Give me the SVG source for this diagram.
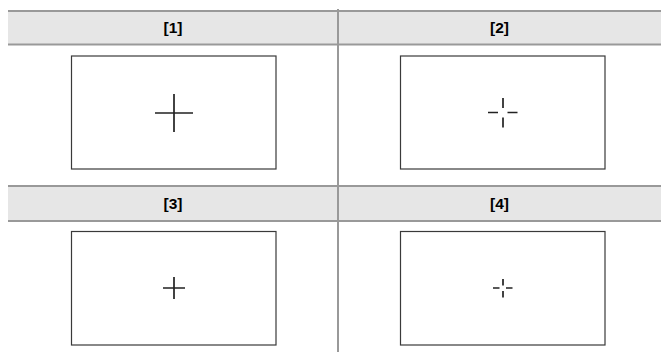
<svg xmlns="http://www.w3.org/2000/svg" width="661" height="352" viewBox="0 0 661 352">
<style>
.hdr{fill:#e6e6e6}
.rule{stroke:#999;stroke-width:2;fill:none}
.lbl{font-family:"Liberation Sans",Arial,sans-serif;font-weight:bold;font-size:15.5px;fill:#000;text-anchor:middle}
.box{fill:#fff;stroke:#3a3a3a;stroke-width:1.2}
.cross{stroke:#222;stroke-width:1.7;fill:none}
</style>
<rect width="661" height="352" fill="#fff"/>
<g id="headers">
<rect class="hdr" x="8" y="11" width="653" height="33.5"/>
<rect class="hdr" x="8" y="186" width="653" height="35"/>
<line class="rule" x1="8" y1="11" x2="661" y2="11"/>
<line class="rule" x1="8" y1="44.5" x2="661" y2="44.5"/>
<line class="rule" x1="8" y1="186" x2="661" y2="186"/>
<line class="rule" x1="8" y1="221" x2="661" y2="221"/>
<line class="rule" x1="338" y1="9" x2="338" y2="352"/>
<text class="lbl" x="173" y="33">[1]</text>
<text class="lbl" x="499.5" y="33">[2]</text>
<text class="lbl" x="173" y="209">[3]</text>
<text class="lbl" x="499.5" y="209">[4]</text>
</g>
<g id="panel1">
<rect class="box" x="71.5" y="56" width="204.5" height="113"/>
<path class="cross" d="M174 94V132M155 113H193"/>
</g>
<g id="panel2">
<rect class="box" x="400.5" y="56" width="204.5" height="113"/>
<path class="cross" d="M503 98V108M503 117.5V127.5M488 112.5H498M507.5 112.5H517.5"/>
</g>
<g id="panel3">
<rect class="box" x="71.5" y="231.5" width="204.5" height="113.5"/>
<path class="cross" d="M174 277V299M163 288H185"/>
</g>
<g id="panel4">
<rect class="box" x="400.5" y="231.5" width="204.5" height="113.5"/>
<path class="cross" d="M503 279V285.5M503 291V297.5M493 288H499.5M506 288H512.5"/>
</g>
</svg>
